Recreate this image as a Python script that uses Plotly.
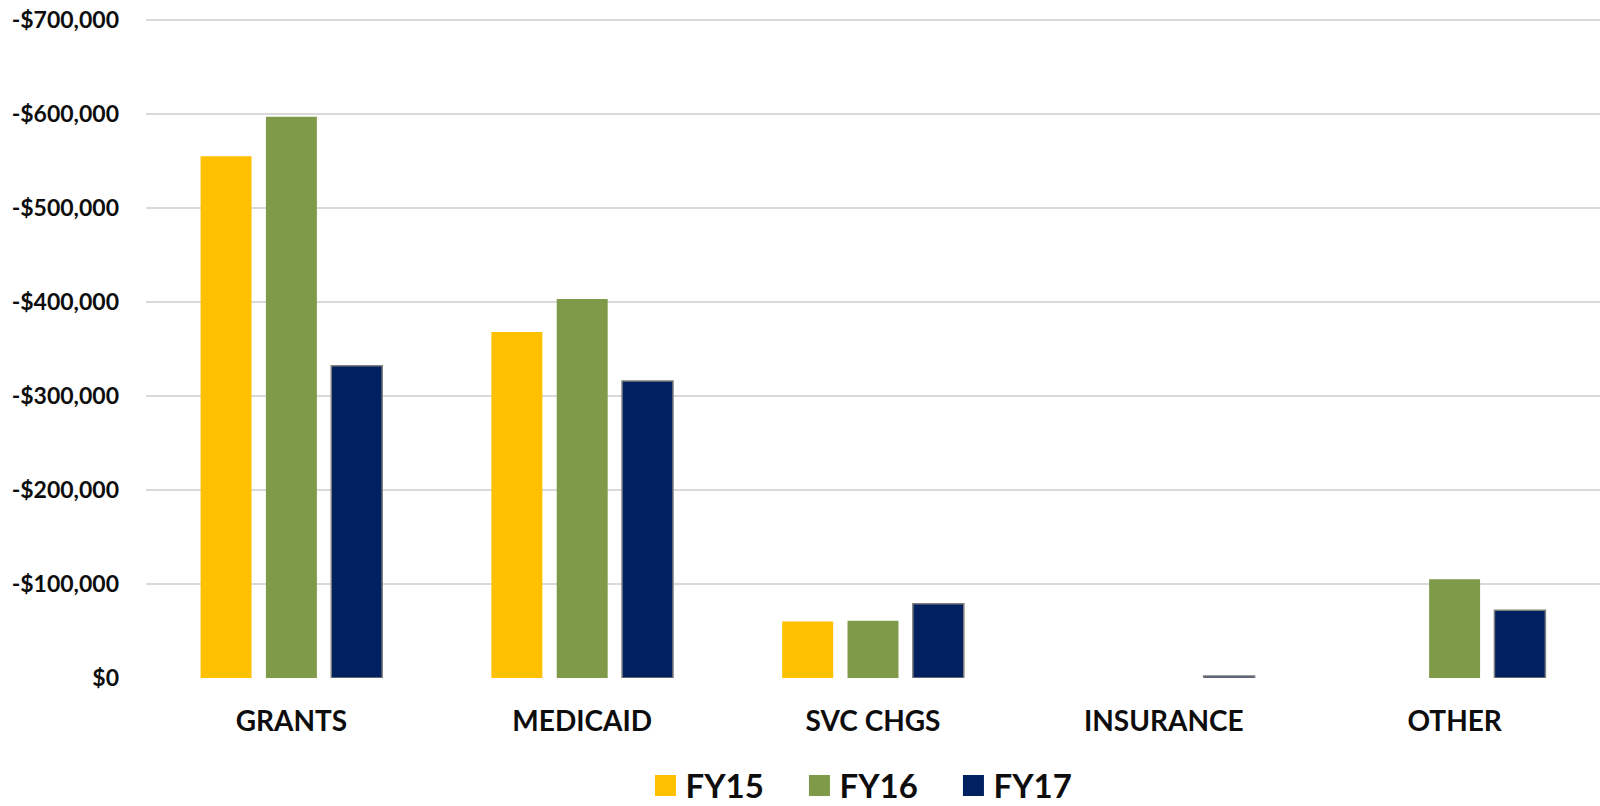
import plotly.graph_objects as go

categories = ["GRANTS", "MEDICAID", "SVC CHGS", "INSURANCE", "OTHER"]
series_names = ["FY15", "FY16", "FY17"]
fy15 = [-555000, -368000, -60000, 0, 0]
fy16 = [-597000, -403000, -61000, 0, -105000]
fy17 = [-332000, -316000, -79000, -2000, -72000]
y_tick_vals = [0, -100000, -200000, -300000, -400000, -500000, -600000, -700000]
y_tick_text = ["$0", "-$100,000", "-$200,000", "-$300,000", "-$400,000",
               "-$500,000", "-$600,000", "-$700,000"]

colors = ["#FFC000", "#7F9A48", "#002060"]
line_colors = ["#FFC000", "#7F9A48", "#7F7F7F"]
line_widths = [0, 0, 1.5]

FONT = "Lato"
TXT = "#0D0D0D"

fig = go.Figure()
for name, vals, c, lc, lw in zip(series_names, [fy15, fy16, fy17], colors, line_colors, line_widths):
    fig.add_trace(go.Bar(
        x=categories, y=vals, name=name, showlegend=False,
        marker=dict(color=c, line=dict(color=lc, width=lw)),
    ))
# legend entries
for name, c in zip(series_names, colors):
    fig.add_trace(go.Scatter(
        x=[None], y=[None], mode="markers", name=name,
        marker=dict(symbol="square", size=16, color=c, line=dict(color=c, width=5)),
    ))

fig.update_layout(
    width=1600, height=806,
    paper_bgcolor="white", plot_bgcolor="white",
    margin=dict(l=146, r=0, t=18, b=128),
    barmode="group", bargap=0.326, bargroupgap=0.22,
    font=dict(family=FONT, color=TXT),
    showlegend=True,
    legend=dict(
        orientation="h", xref="paper", yref="container",
        x=0.3435, xanchor="left", y=0.0255, yanchor="middle",
        font=dict(family=FONT, size=33, color=TXT, weight="bold"),
        entrywidth=109, entrywidthmode="pixels",
        itemsizing="trace", bgcolor="rgba(0,0,0,0)",
    ),
    xaxis=dict(
        showgrid=False, showline=False, zeroline=False, automargin=False,
        ticks="outside", ticklen=18, tickcolor="rgba(0,0,0,0)",
        tickfont=dict(family=FONT, size=28, color=TXT, weight="bold"),
        fixedrange=True,
    ),
    yaxis=dict(
        range=[0, -702000], automargin=False,
        tickvals=y_tick_vals, ticktext=y_tick_text,
        showgrid=True, gridcolor="#D9D9D9", gridwidth=1.5,
        zeroline=False, showline=False,
        ticklabelstandoff=26, ticklabeloverflow="allow",
        tickfont=dict(family=FONT, size=23, color=TXT, weight="bold"),
        fixedrange=True,
    ),
)

fig.write_html("out.html", config={"displayModeBar": False},
               post_script="document.body.style.margin='0';")
